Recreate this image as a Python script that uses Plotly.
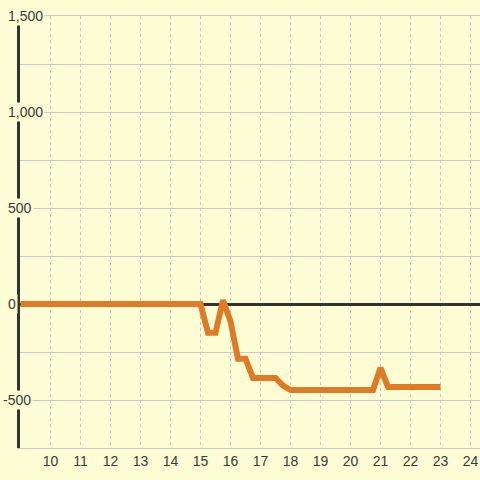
import plotly.graph_objects as go

hours = [9.0, 9.25, 9.5, 9.75, 10.0, 10.25, 10.5, 10.75, 11.0, 11.25, 11.5, 11.75,
         12.0, 12.25, 12.5, 12.75, 13.0, 13.25, 13.5, 13.75, 14.0, 14.25, 14.5, 14.75,
         15.0, 15.25, 15.5, 15.75, 16.0, 16.25, 16.5, 16.75, 17.0, 17.25, 17.5, 17.75,
         18.0, 18.25, 18.5, 18.75, 19.0, 19.25, 19.5, 19.75, 20.0, 20.25, 20.5, 20.75,
         21.0, 21.25, 21.5, 21.75, 22.0, 22.25, 22.5, 22.75, 23.0]
values = [0, 0, 0, 0, 0, 0, 0, 0, 0, 0, 0, 0,
          0, 0, 0, 0, 0, 0, 0, 0, 0, 0, 0, 0,
          0, -150, -150, 20, -90, -285, -285, -385, -385, -385, -385, -425,
          -448, -448, -448, -448, -448, -448, -448, -448, -448, -448, -448, -448,
          -333, -432, -432, -432, -432, -432, -432, -432, -432]

x_ticks = [10, 11, 12, 13, 14, 15, 16, 17, 18, 19, 20, 21, 22, 23, 24]
y_label_vals = [1500, 1000, 500, 0, -500]
y_label_text = ["1,500", "1,000", "500", "0", "-500"]

BG = "#fcfdd5"
FONT = "Liberation Sans, Arial, sans-serif"
TXT = "#3a3a3a"

fig = go.Figure()
fig.add_trace(go.Scatter(x=hours, y=values, mode="lines",
                         line=dict(color="#e07b25", width=6), hoverinfo="skip"))

annotations = []
for v, t in zip(y_label_vals, y_label_text):
    annotations.append(dict(
        xref="paper", yref="y", x=-14 / 460, y=v, text=t, showarrow=False,
        xanchor="left", yanchor="middle", bgcolor=BG, borderpad=1,
        xshift=-5 if t.startswith("-") else 0,
        font=dict(family=FONT, size=14, color=TXT)))

fig.update_layout(
    width=480, height=480,
    margin=dict(l=20, r=0, t=16, b=32, autoexpand=False),
    paper_bgcolor=BG, plot_bgcolor=BG,
    showlegend=False,
    annotations=annotations,
    xaxis=dict(range=[9 - 0.5 / 30, 24 + 9.5 / 30], tickvals=x_ticks,
               ticktext=[str(v) for v in x_ticks], automargin=False,
               showgrid=True, gridcolor="#c4c4c4", gridwidth=1, griddash="3px,3px",
               showline=True, mirror=True, linecolor="#c8c8c8", linewidth=1,
               zeroline=False, ticks="",
               tickfont=dict(family=FONT, size=14, color=TXT)),
    yaxis=dict(range=[-750, 1500], dtick=250, tick0=0, automargin=False,
               showgrid=True, gridcolor="#c8c8c8", gridwidth=1,
               showticklabels=False, ticks="",
               zeroline=True, zerolinecolor="#333333", zerolinewidth=3,
               showline=True, linecolor="#333333", linewidth=3),
)

fig.write_html("out.html", config={"displayModeBar": False},
               post_script="document.body.style.margin='0';document.body.style.background='" + BG + "';")
